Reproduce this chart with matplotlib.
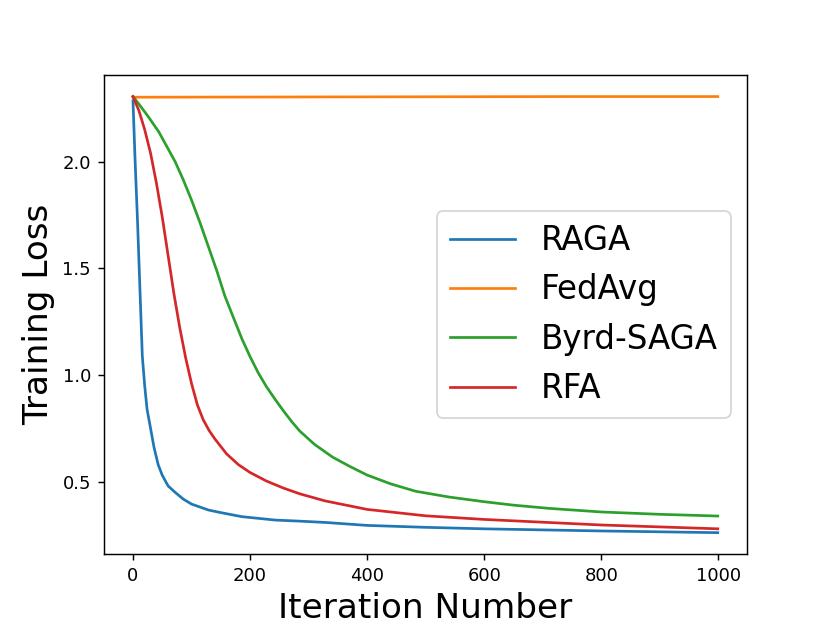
import matplotlib
matplotlib.use("Agg")
import matplotlib.pyplot as plt

# values (iteration, training loss)
iters_raga = [0, 3.4, 7.9, 11.9, 15.9, 20, 24, 30, 36, 43, 50, 60, 72, 86, 100, 129, 150, 186,
              243, 285, 328, 400, 500, 600, 700, 800, 900, 999]
loss_raga = [2.285, 2.02, 1.71, 1.40, 1.09, 0.95, 0.84, 0.75, 0.66, 0.58, 0.53, 0.48, 0.45, 0.418,
             0.395, 0.367, 0.355, 0.336, 0.320, 0.315, 0.309, 0.295, 0.286, 0.279, 0.274, 0.269,
             0.265, 0.261]

iters_fedavg = [0, 250, 500, 750, 999]
loss_fedavg = [2.302, 2.303, 2.304, 2.305, 2.305]

iters_byrd = [0, 10, 25, 44, 58, 72, 86, 100, 115, 129, 143, 157, 171, 186, 200, 214, 228, 243,
              257, 271, 285, 310, 341, 370, 400, 440, 483, 540, 600, 650, 710, 800, 900, 999]
loss_byrd = [2.305, 2.27, 2.215, 2.14, 2.07, 2.0, 1.914, 1.82, 1.71, 1.60, 1.49, 1.37, 1.273, 1.17,
             1.086, 1.01, 0.945, 0.885, 0.832, 0.782, 0.737, 0.675, 0.615, 0.572, 0.531, 0.49,
             0.455, 0.428, 0.406, 0.39, 0.375, 0.358, 0.347, 0.339]

iters_rfa = [0, 10, 20, 30, 40, 50, 60, 70, 80, 90, 100, 110, 120, 130, 140, 160, 180, 200, 228,
             257, 285, 328, 400, 500, 600, 700, 800, 900, 999]
loss_rfa = [2.305, 2.24, 2.15, 2.04, 1.90, 1.74, 1.56, 1.38, 1.22, 1.08, 0.96, 0.86, 0.79, 0.74,
            0.70, 0.63, 0.58, 0.543, 0.503, 0.47, 0.443, 0.41, 0.37, 0.34, 0.323, 0.31, 0.297,
            0.288, 0.279]

fig, ax = plt.subplots(figsize=(830 / 130, 623 / 130), dpi=130)
ax.plot(iters_raga, loss_raga, label="RAGA")
ax.plot(iters_fedavg, loss_fedavg, label="FedAvg")
ax.plot(iters_byrd, loss_byrd, label="Byrd-SAGA")
ax.plot(iters_rfa, loss_rfa, label="RFA")

ax.set_xlabel("Iteration Number", fontsize=19)
ax.set_ylabel("Training Loss", fontsize=19)
ax.set_yticks([0.5, 1.0, 1.5, 2.0])
ax.legend(loc="center right", fontsize=18)

fig.savefig("out.png", dpi=130)
